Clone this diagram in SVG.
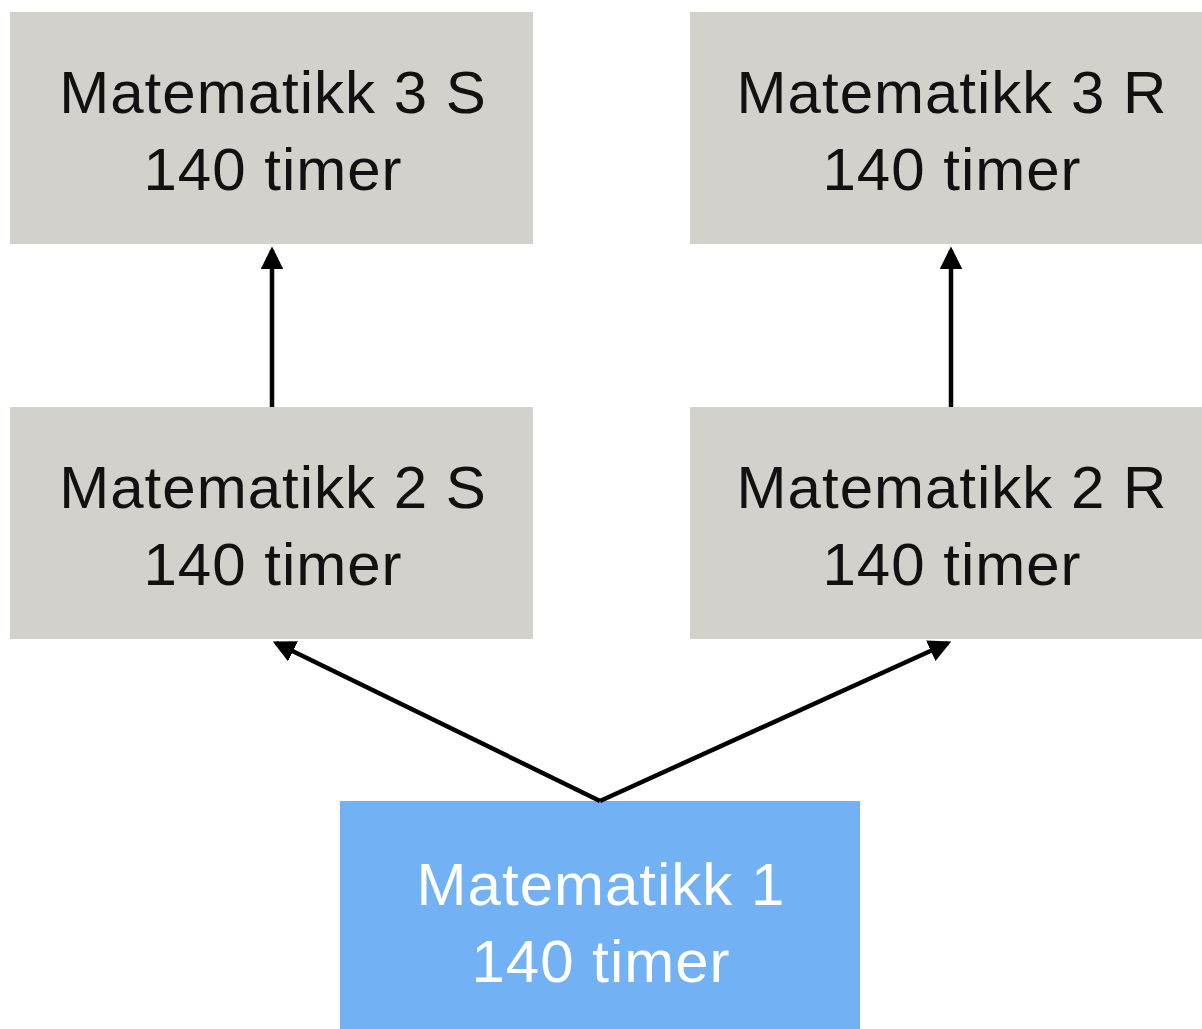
<svg xmlns="http://www.w3.org/2000/svg" width="1202" height="1029" viewBox="0 0 1202 1029">
<style>
.box{fill:#d3d1cc}
.blue{fill:#72b1f3}
.t{font-family:"Liberation Sans",Arial,sans-serif;font-size:60px;letter-spacing:1px;text-anchor:middle;fill:#111}
.w{fill:#ffffff}
.c{stroke:#000;stroke-width:4.5;fill:none}
</style>
<defs>
<marker id="ah" markerWidth="5" markerHeight="5" refX="4.2" refY="2.5" orient="auto" markerUnits="strokeWidth">
<path d="M0,0 L5,2.5 L0,5 Z" fill="#000"/>
</marker>
</defs>
<rect width="1202" height="1029" fill="#fff"/>
<g id="n3s">
<rect class="box" x="10" y="12" width="523" height="232"/>
<text class="t" x="273" y="113">Matematikk 3 S</text>
<text class="t" x="273" y="190">140 timer</text>
</g>
<g id="n3r">
<rect class="box" x="690" y="12" width="512" height="232"/>
<text class="t" x="952" y="113">Matematikk 3 R</text>
<text class="t" x="952" y="190">140 timer</text>
</g>
<g id="n2s">
<rect class="box" x="10" y="407" width="523" height="232"/>
<text class="t" x="273" y="508">Matematikk 2 S</text>
<text class="t" x="273" y="585">140 timer</text>
</g>
<g id="n2r">
<rect class="box" x="690" y="407" width="512" height="232"/>
<text class="t" x="952" y="508">Matematikk 2 R</text>
<text class="t" x="952" y="585">140 timer</text>
</g>
<g id="n1">
<rect class="blue" x="340" y="801" width="520" height="228"/>
<text class="t w" x="601" y="905">Matematikk 1</text>
<text class="t w" x="601" y="982">140 timer</text>
</g>
<g id="connectors">
<line class="c" x1="272" y1="407" x2="272" y2="250" marker-end="url(#ah)"/>
<line class="c" x1="951" y1="407" x2="951" y2="250" marker-end="url(#ah)"/>
<line class="c" x1="600" y1="801" x2="276" y2="643" marker-end="url(#ah)"/>
<line class="c" x1="600" y1="801" x2="948" y2="643" marker-end="url(#ah)"/>
</g>
</svg>
